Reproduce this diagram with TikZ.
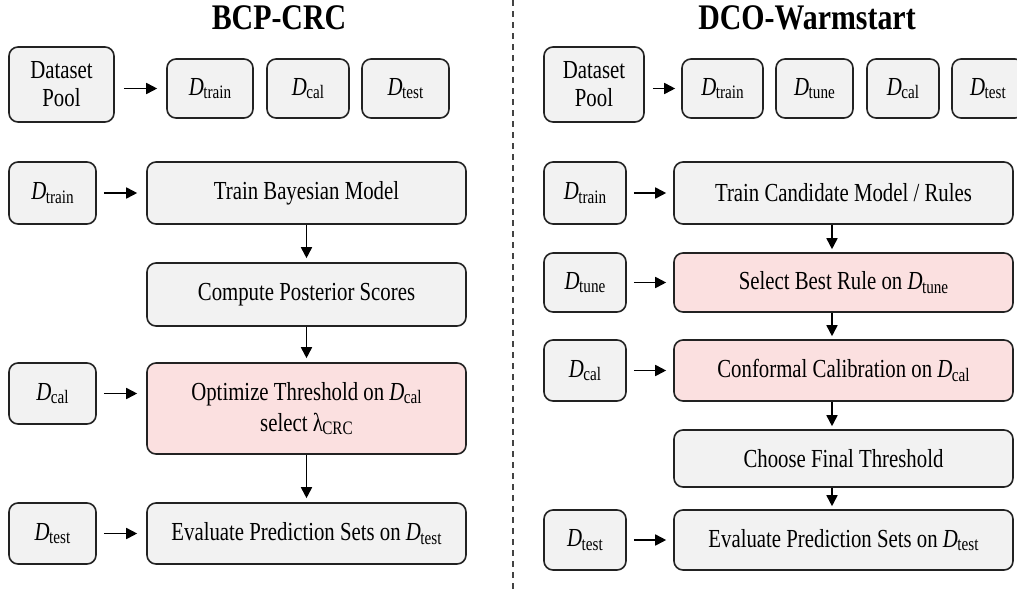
\documentclass[tikz,border=0pt]{standalone}
\usepackage{fontspec}
\setmainfont{Liberation Serif}[FakeStretch=0.8]
\newfontfamily\titlefont{Liberation Serif}[FakeStretch=0.83]
\usetikzlibrary{arrows.meta,calc}
\definecolor{boxgray}{HTML}{F2F2F2}
\definecolor{boxpink}{HTML}{FBE0E0}
\definecolor{edge}{HTML}{222222}
\newcommand{\Dsub}[1]{\textit{D}\kern-0.5pt\raisebox{-0.28ex}{\fontsize{19}{19}\selectfont #1}}
\begin{document}
\begin{tikzpicture}[x=1pt,y=-1pt,
  bx/.style={draw=edge, line width=1.6pt, rounded corners=9pt, fill=boxgray,
     inner sep=0pt, align=center, font=\fontsize{26}{29}\selectfont},
  pk/.style={bx, fill=boxpink},
  arr/.style={line width=1.7pt, -{Triangle[length=11pt,width=11pt]}},
  ttl/.style={font=\titlefont\bfseries\fontsize{36}{40}\selectfont, anchor=base}]
\useasboundingbox (0,0) rectangle (1017,592);
\clip (0,0) rectangle (1017,592);
\fill[white] (0,0) rectangle (1017,592);

% divider
\draw[line width=1.1pt, edge!85, dash pattern=on 6pt off 5pt] (513,0) -- (513,592);

% titles
\node[ttl] (t1) at (279,29.5) {BCP-CRC};
\node[ttl] (t2) at (807,29.5) {DCO-Warmstart};

% ---------------- left panel ----------------
\node[bx, minimum width=105pt, minimum height=75pt, font=\fontsize{26}{28}\selectfont] (dp1) at (61.5,84.5) {Dataset\\Pool};
\node[bx, minimum width=86pt, minimum height=59pt] (tr1) at (210,88.5) {\Dsub{train}};
\node[bx, minimum width=82pt, minimum height=59pt] (ca1) at (308,88.5) {\Dsub{cal}};
\node[bx, minimum width=87pt, minimum height=59pt] (te1) at (405.5,88.5) {\Dsub{test}};
\draw[arr, shorten <=9pt, shorten >=9pt] (dp1.east |- tr1.west) -- (tr1.west);

\node[bx, minimum width=87pt, minimum height=62pt] (i11) at (52.5,193) {\Dsub{train}};
\node[bx, minimum width=319pt, minimum height=62pt] (s11) at (306.5,193) {Train Bayesian Model};
\node[bx, minimum width=319pt, minimum height=63pt] (s12) at (306.5,294.5) {Compute Posterior Scores};
\node[bx, minimum width=87pt, minimum height=61pt] (i12) at (52.5,393.5) {\Dsub{cal}};
\node[pk, minimum width=319pt, minimum height=91pt, font=\fontsize{26}{31}\selectfont] (s13) at (306.5,408.5) {Optimize Threshold on \Dsub{cal}\\select λ\kern-0.5pt\raisebox{-0.28ex}{\fontsize{19}{19}\selectfont CRC}};
\node[bx, minimum width=87pt, minimum height=61pt] (i13) at (52.5,533.5) {\Dsub{test}};
\node[bx, minimum width=319pt, minimum height=61pt] (s14) at (306.5,533.5) {Evaluate Prediction Sets on \Dsub{test}};

\foreach \a/\b in {i11/s11,i12/s13,i13/s14}
  \draw[arr, shorten <=7pt, shorten >=9pt] (\a.east) -- (\a.east -| \b.west);
\foreach \a/\b in {s11/s12,s12/s13,s13/s14}
  \draw[arr, shorten >=4pt] (\a.south) -- (\b.north);

% ---------------- right panel ----------------
\node[bx, minimum width=100pt, minimum height=75pt, font=\fontsize{26}{28}\selectfont] (dp2) at (594,84.5) {Dataset\\Pool};
\node[bx, minimum width=81pt, minimum height=59pt] (tr2) at (722.5,88.5) {\Dsub{train}};
\node[bx, minimum width=77pt, minimum height=59pt] (tu2) at (814.5,88.5) {\Dsub{tune}};
\node[bx, minimum width=72pt, minimum height=59pt] (ca2) at (903,88.5) {\Dsub{cal}};
\node[bx, minimum width=72pt, minimum height=59pt] (te2) at (988,88.5) {\Dsub{test}};
\draw[arr, shorten <=8pt, shorten >=6pt] (dp2.east |- tr2.west) -- (tr2.west);

\coordinate (ax) at (832,0);
\node[bx, minimum width=82pt, minimum height=62pt] (i21) at (585,193) {\Dsub{train}};
\node[bx, minimum width=339pt, minimum height=62pt] (s21) at (843.5,193) {Train Candidate Model / Rules};
\node[bx, minimum width=82pt, minimum height=59pt] (i22) at (585,282.5) {\Dsub{tune}};
\node[pk, minimum width=339pt, minimum height=59pt] (s22) at (843.5,282.5) {Select Best Rule on \Dsub{tune}};
\node[bx, minimum width=82pt, minimum height=61pt] (i23) at (585,370.5) {\Dsub{cal}};
\node[pk, minimum width=339pt, minimum height=61pt] (s23) at (843.5,370.5) {Conformal Calibration on \Dsub{cal}};
\node[bx, minimum width=339pt, minimum height=57pt] (s24) at (843.5,458.5) {Choose Final Threshold};
\node[bx, minimum width=82pt, minimum height=60pt] (i25) at (585,540) {\Dsub{test}};
\node[bx, minimum width=339pt, minimum height=60pt] (s25) at (843.5,540) {Evaluate Prediction Sets on \Dsub{test}};

\foreach \a/\b in {i21/s21,i22/s22,i23/s23,i25/s25}
  \draw[arr, shorten <=7pt, shorten >=7pt] (\a.east) -- (\a.east -| \b.west);
\foreach \a/\b in {s21/s22,s22/s23,s23/s24,s24/s25}
  \draw[arr, shorten >=3pt] (\a.south -| ax) -- (\b.north -| ax);
\end{tikzpicture}
\end{document}
